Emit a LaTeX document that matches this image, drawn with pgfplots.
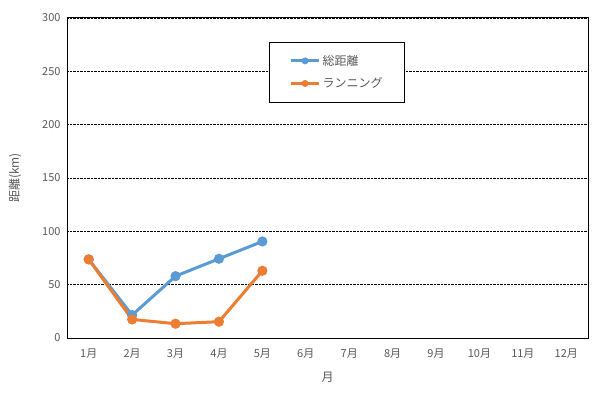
\documentclass[border=0pt]{standalone}
\usepackage{fontspec}
\setmainfont{Noto Sans CJK JP}
\usepackage{pgfplots}
\pgfplotsset{compat=1.18}
\definecolor{sblue}{HTML}{5B9BD5}
\definecolor{sorange}{HTML}{ED7D31}
\definecolor{tgray}{HTML}{595959}
\begin{document}
\begin{tikzpicture}[x=1pt,y=1pt]
\begin{axis}[
  at={(67pt,59pt)}, anchor=south west,
  scale only axis, width=521pt, height=320pt,
  xmin=0.5, xmax=12.5, ymin=0, ymax=300,
  xtick={1,...,12},
  xticklabels={1月,2月,3月,4月,5月,6月,7月,8月,9月,10月,11月,12月},
  ytick={0,50,...,300},
  major tick length=0pt,
  ymajorgrids, grid style={black, densely dotted, line width=0.8pt},
  axis line style={black, line width=1pt},
  /pgf/number format/assume math mode=true,
  tick label style={font=\fontsize{11}{13}\selectfont, text=tgray},
  xticklabel style={yshift=-7pt},
  yticklabel style={xshift=-3pt},
  xlabel={月}, ylabel={距離(km)},
  label style={font=\fontsize{12}{14}\selectfont, text=tgray},
  xlabel style={at={(axis description cs:0.5,-0.122)}, anchor=center},
  ylabel style={at={(axis description cs:-0.1,0.5)}, anchor=center, rotate=0},
  legend style={at={(0.388,0.926)}, anchor=north west, draw=black, line width=0.8pt,
    font=\fontsize{12}{14}\selectfont, text=tgray, inner xsep=20pt, inner ysep=11pt,
    row sep=7pt},
  legend cell align=left,
  legend image code/.code={\draw[#1, line width=3pt] (0pt,0pt) -- (28pt,0pt); \fill[#1, draw=none] (14pt,0pt) circle (3.5pt);},
]
\addplot[sblue, line width=3pt, mark=*, mark size=3.5pt, mark options={draw=sblue, fill=sblue}] coordinates {
(1,73.7) (2,21.5) (3,58) (4,74.3) (5,90.5)};
\addlegendentry{総距離}
\addplot[sorange, line width=3pt, mark=*, mark size=3.5pt, mark options={draw=sorange, fill=sorange}] coordinates {
(1,73.7) (2,17.4) (3,13.4) (4,15.3) (5,63)};
\addlegendentry{ランニング}
\end{axis}
\pgfresetboundingbox
\path[use as bounding box] (0,0) rectangle (594pt,397pt);
\end{tikzpicture}
\end{document}
